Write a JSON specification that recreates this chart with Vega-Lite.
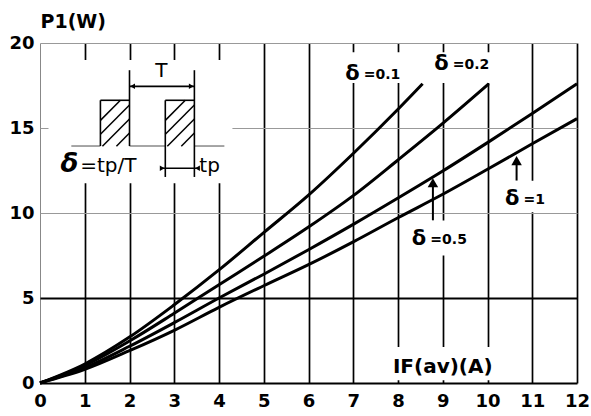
{
  "$schema": "https://vega.github.io/schema/vega-lite/v6.json",
  "autosize": "none",
  "width": 537,
  "height": 340,
  "padding": {"left": 40, "top": 43, "right": 14, "bottom": 33},
  "background": "white",
  "config": {"view": {"stroke": null}},
  "datasets": {
    "curves": [
      {"d": "0.1", "x": 0, "y": 0}, {"d": "0.1", "x": 1, "y": 1.12}, {"d": "0.1", "x": 2, "y": 2.7}, {"d": "0.1", "x": 3, "y": 4.6}, {"d": "0.1", "x": 4, "y": 6.65}, {"d": "0.1", "x": 5, "y": 8.85}, {"d": "0.1", "x": 6, "y": 11.05}, {"d": "0.1", "x": 7, "y": 13.5}, {"d": "0.1", "x": 8, "y": 16.1}, {"d": "0.1", "x": 8.55, "y": 17.6},
      {"d": "0.2", "x": 0, "y": 0}, {"d": "0.2", "x": 1, "y": 1.03}, {"d": "0.2", "x": 2, "y": 2.47}, {"d": "0.2", "x": 3, "y": 4.1}, {"d": "0.2", "x": 4, "y": 5.78}, {"d": "0.2", "x": 5, "y": 7.45}, {"d": "0.2", "x": 6, "y": 9.17}, {"d": "0.2", "x": 7, "y": 11.02}, {"d": "0.2", "x": 8, "y": 13.12}, {"d": "0.2", "x": 9, "y": 15.27}, {"d": "0.2", "x": 10.03, "y": 17.6},
      {"d": "0.5", "x": 0, "y": 0}, {"d": "0.5", "x": 1, "y": 0.9}, {"d": "0.5", "x": 2, "y": 2.16}, {"d": "0.5", "x": 3, "y": 3.55}, {"d": "0.5", "x": 4, "y": 5.0}, {"d": "0.5", "x": 5, "y": 6.4}, {"d": "0.5", "x": 6, "y": 7.84}, {"d": "0.5", "x": 7, "y": 9.33}, {"d": "0.5", "x": 8, "y": 10.88}, {"d": "0.5", "x": 9, "y": 12.47}, {"d": "0.5", "x": 10, "y": 14.14}, {"d": "0.5", "x": 11, "y": 15.85}, {"d": "0.5", "x": 12, "y": 17.6},
      {"d": "1", "x": 0, "y": 0}, {"d": "1", "x": 1, "y": 0.8}, {"d": "1", "x": 2, "y": 1.9}, {"d": "1", "x": 3, "y": 3.1}, {"d": "1", "x": 4, "y": 4.45}, {"d": "1", "x": 5, "y": 5.72}, {"d": "1", "x": 6, "y": 6.96}, {"d": "1", "x": 7, "y": 8.3}, {"d": "1", "x": 8, "y": 9.72}, {"d": "1", "x": 9, "y": 11.1}, {"d": "1", "x": 10, "y": 12.57}, {"d": "1", "x": 11, "y": 14.07}, {"d": "1", "x": 12, "y": 15.55}
    ],
    "masks": [
      {"x": 0.19, "x2": 4.3, "y": 11.75, "y2": 19.0},
      {"x": 7.8, "x2": 10.2, "y": 0.16, "y2": 2.12},
      {"x": 6.6, "x2": 10.3, "y": 17.65, "y2": 19.45},
      {"x": 8.3, "x2": 9.8, "y": 7.5, "y2": 9.56},
      {"x": 10.3, "x2": 11.5, "y": 10.05, "y2": 11.9}
    ],
    "baseline": [
      {"x": 0.7, "x2": 1.35, "y": 13.94, "y2": 13.94},
      {"x": 2.0, "x2": 2.8, "y": 13.94, "y2": 13.94},
      {"x": 3.45, "x2": 4.12, "y": 13.94, "y2": 13.94}
    ],
    "outline": [
      {"x": 1.35, "x2": 1.35, "y": 13.94, "y2": 16.63},
      {"x": 1.35, "x2": 2.0, "y": 16.63, "y2": 16.63},
      {"x": 2.0, "x2": 2.0, "y": 13.94, "y2": 18.4},
      {"x": 2.8, "x2": 2.8, "y": 12.12, "y2": 16.63},
      {"x": 2.8, "x2": 3.45, "y": 16.63, "y2": 16.63},
      {"x": 3.45, "x2": 3.45, "y": 12.12, "y2": 18.4},
      {"x": 2.0, "x2": 3.45, "y": 17.45, "y2": 17.45},
      {"x": 2.69, "x2": 3.56, "y": 12.63, "y2": 12.63}
    ],
    "hatch": [
      {"x": 1.35, "x2": 1.797, "y": 15.45, "y2": 16.63},
      {"x": 1.35, "x2": 2.0, "y": 14.63, "y2": 16.35},
      {"x": 1.395, "x2": 2.0, "y": 13.93, "y2": 15.53},
      {"x": 1.708, "x2": 2.0, "y": 13.93, "y2": 14.71},
      {"x": 2.8, "x2": 3.247, "y": 15.45, "y2": 16.63},
      {"x": 2.8, "x2": 3.45, "y": 14.63, "y2": 16.35},
      {"x": 2.845, "x2": 3.45, "y": 13.93, "y2": 15.53},
      {"x": 3.158, "x2": 3.45, "y": 13.93, "y2": 14.71}
    ],
    "insetHeads": [
      {"x": 2.07, "y": 17.45, "dir": "left"},
      {"x": 3.38, "y": 17.45, "dir": "right"},
      {"x": 2.73, "y": 12.63, "dir": "right"},
      {"x": 3.52, "y": 12.63, "dir": "left"}
    ],
    "labelArrows": [
      {"x": 8.78, "y": 9.57, "y2": 11.6, "hx": 8.78, "hy": 11.78},
      {"x": 10.65, "y": 11.91, "y2": 12.9, "hx": 10.65, "hy": 13.08}
    ],
    "curveLabels": [
      {"x": 6.82, "y": 17.85, "rest": "=0.1"},
      {"x": 8.81, "y": 18.42, "rest": "=0.2"},
      {"x": 8.31, "y": 8.1, "rest": "=0.5"},
      {"x": 10.39, "y": 10.5, "rest": "=1"}
    ],
    "insetLeftText": [
      {"x": 3.56, "y": 12.39, "t": "tp"},
      {"x": 0.9, "y": 12.39, "t": "=tp/T"}
    ]
  },
  "layer": [
    {
      "data": {"name": "masks"},
      "mark": {"type": "rect", "fill": "white", "stroke": null},
      "encoding": {
        "x": {
          "field": "x", "type": "quantitative",
          "scale": {"domain": [0, 12], "nice": false, "zero": false},
          "axis": {
            "values": [0, 1, 2, 3, 4, 5, 6, 7, 8, 9, 10, 11, 12],
            "title": null,
            "zindex": 0,
            "grid": true,
            "gridColor": {"condition": {"test": "datum.value === 0", "value": "#888"}, "value": "#000"},
            "gridWidth": {"condition": {"test": "datum.value === 0", "value": 1}, "value": 1.7},
            "gridOpacity": 1,
            "ticks": false,
            "domain": true,
            "domainColor": "#000",
            "domainWidth": 2,
            "labelFont": "DejaVu Sans",
            "labelFontWeight": "bold",
            "labelFontSize": 18,
            "labelColor": "#000",
            "labelPadding": 9,
            "labelFlush": false,
            "labelOverlap": false
          }
        },
        "x2": {"field": "x2"},
        "y": {
          "field": "y", "type": "quantitative",
          "scale": {"domain": [0, 20], "nice": false, "zero": false},
          "axis": {
            "values": [0, 5, 10, 15, 20],
            "title": "P1(W)",
            "titleAngle": 0,
            "titleX": 0,
            "titleY": -16,
            "titleAlign": "left",
            "titleBaseline": "alphabetic",
            "titleFont": "DejaVu Sans",
            "titleFontWeight": "bold",
            "titleFontSize": 19,
            "titleColor": "#000",
            "zindex": 0,
            "grid": true,
            "gridColor": {"condition": {"test": "datum.value === 5", "value": "#000"}, "value": "#999"},
            "gridWidth": {"condition": {"test": "datum.value === 5", "value": 2}, "value": 1.2},
            "gridOpacity": 1,
            "ticks": false,
            "domain": false,
            "labelFont": "DejaVu Sans",
            "labelFontWeight": "bold",
            "labelFontSize": 18,
            "labelColor": "#000",
            "labelPadding": 6,
            "labelFlush": false,
            "labelOverlap": false
          }
        },
        "y2": {"field": "y2"}
      }
    },
    {
      "data": {"name": "baseline"},
      "mark": {"type": "rule", "color": "#888", "strokeWidth": 1.5},
      "encoding": {
        "x": {"field": "x", "type": "quantitative"}, "x2": {"field": "x2"},
        "y": {"field": "y", "type": "quantitative"}, "y2": {"field": "y2"}
      }
    },
    {
      "data": {"name": "hatch"},
      "mark": {"type": "rule", "color": "#000", "strokeWidth": 1.5},
      "encoding": {
        "x": {"field": "x", "type": "quantitative"}, "x2": {"field": "x2"},
        "y": {"field": "y", "type": "quantitative"}, "y2": {"field": "y2"}
      }
    },
    {
      "data": {"name": "outline"},
      "mark": {"type": "rule", "color": "#000", "strokeWidth": 1.6},
      "encoding": {
        "x": {"field": "x", "type": "quantitative"}, "x2": {"field": "x2"},
        "y": {"field": "y", "type": "quantitative"}, "y2": {"field": "y2"}
      }
    },
    {
      "data": {"name": "insetHeads"},
      "mark": {"type": "point", "filled": true, "color": "#000", "size": 30, "opacity": 1},
      "encoding": {
        "x": {"field": "x", "type": "quantitative"},
        "y": {"field": "y", "type": "quantitative"},
        "shape": {"field": "dir", "type": "nominal", "scale": {"domain": ["left", "right"], "range": ["triangle-left", "triangle-right"]}, "legend": null}
      }
    },
    {
      "data": {"name": "curves"},
      "mark": {"type": "line", "color": "#000", "strokeWidth": 3, "interpolate": "monotone", "strokeCap": "butt"},
      "encoding": {
        "x": {"field": "x", "type": "quantitative"},
        "y": {"field": "y", "type": "quantitative"},
        "detail": {"field": "d", "type": "nominal"}
      }
    },
    {
      "data": {"name": "labelArrows"},
      "mark": {"type": "rule", "color": "#000", "strokeWidth": 2},
      "encoding": {
        "x": {"field": "x", "type": "quantitative"},
        "y": {"field": "y", "type": "quantitative"}, "y2": {"field": "y2"}
      }
    },
    {
      "data": {"name": "labelArrows"},
      "mark": {"type": "point", "shape": "triangle-up", "filled": true, "color": "#000", "size": 110, "opacity": 1},
      "encoding": {
        "x": {"field": "hx", "type": "quantitative"},
        "y": {"field": "hy", "type": "quantitative"}
      }
    },
    {
      "data": {"name": "curveLabels"},
      "mark": {"type": "text", "text": "δ", "font": "DejaVu Sans", "fontWeight": "bold", "fontSize": 21, "align": "left", "baseline": "alphabetic", "color": "#000"},
      "encoding": {
        "x": {"field": "x", "type": "quantitative"},
        "y": {"field": "y", "type": "quantitative"}
      }
    },
    {
      "data": {"name": "curveLabels"},
      "mark": {"type": "text", "font": "DejaVu Sans", "fontWeight": "bold", "fontSize": 14, "align": "left", "baseline": "alphabetic", "dx": 18.5, "dy": -1, "color": "#000"},
      "encoding": {
        "x": {"field": "x", "type": "quantitative"},
        "y": {"field": "y", "type": "quantitative"},
        "text": {"field": "rest"}
      }
    },
    {
      "data": {"name": "insetLeftText"},
      "mark": {"type": "text", "font": "DejaVu Sans", "fontSize": 20, "align": "left", "baseline": "alphabetic", "color": "#000"},
      "encoding": {
        "x": {"field": "x", "type": "quantitative"},
        "y": {"field": "y", "type": "quantitative"},
        "text": {"field": "t"}
      }
    },
    {
      "data": {"values": [{"x": 2.71, "y": 17.98, "t": "T"}]},
      "mark": {"type": "text", "font": "DejaVu Sans", "fontSize": 20, "align": "center", "baseline": "alphabetic", "color": "#000"},
      "encoding": {
        "x": {"field": "x", "type": "quantitative"},
        "y": {"field": "y", "type": "quantitative"},
        "text": {"field": "t"}
      }
    },
    {
      "data": {"values": [{"x": 0.46, "y": 12.39, "t": "δ"}]},
      "mark": {"type": "text", "font": "DejaVu Sans", "fontWeight": "bold", "fontStyle": "italic", "fontSize": 26, "align": "left", "baseline": "alphabetic", "color": "#000"},
      "encoding": {
        "x": {"field": "x", "type": "quantitative"},
        "y": {"field": "y", "type": "quantitative"},
        "text": {"field": "t"}
      }
    },
    {
      "data": {"values": [{"x": 9.0, "y": 0.61, "t": "IF(av)(A)"}]},
      "mark": {"type": "text", "font": "DejaVu Sans", "fontWeight": "bold", "fontSize": 20, "align": "center", "baseline": "alphabetic", "color": "#000"},
      "encoding": {
        "x": {"field": "x", "type": "quantitative"},
        "y": {"field": "y", "type": "quantitative"},
        "text": {"field": "t"}
      }
    }
  ]
}
